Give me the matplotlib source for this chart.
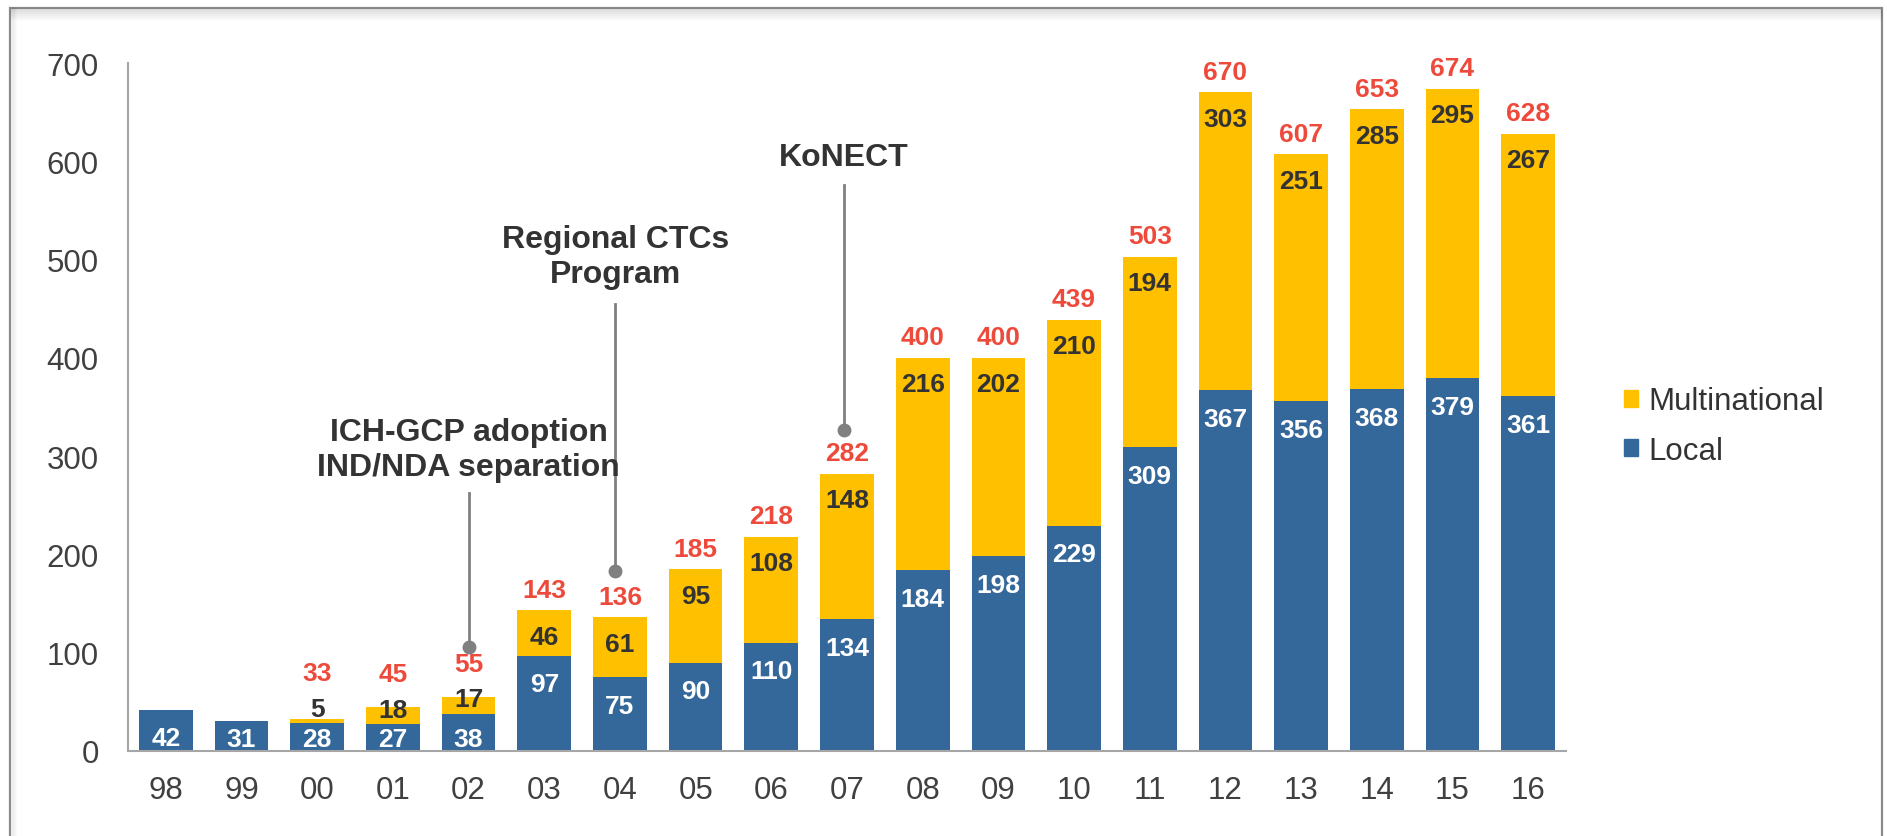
import numpy as np
import matplotlib
matplotlib.use('Agg')
import matplotlib.pyplot as plt
from matplotlib.patches import Rectangle, Patch
from matplotlib.lines import Line2D

plt.rcParams['font.family'] = ['Liberation Sans', 'DejaVu Sans']

# data
years = ['98', '99', '00', '01', '02', '03', '04', '05', '06', '07',
         '08', '09', '10', '11', '12', '13', '14', '15', '16']
local = [42, 31, 28, 27, 38, 97, 75, 90, 110, 134,
         184, 198, 229, 309, 367, 356, 368, 379, 361]
multinational = [0, 0, 5, 18, 17, 46, 61, 95, 108, 148,
                 216, 202, 210, 194, 303, 251, 285, 295, 267]
event_names = ['ICH-GCP adoption\nIND/NDA separation', 'Regional CTCs\nProgram', 'KoNECT']
event_years = ['02', '04', '07']

# layout of the callouts (dot, line top, text centre) in data units
event_dot = [106, 183, 327]
event_top = [262, 455, 576]
event_text = [307, 503, 604]
event_dx = [0.0, -0.06, -0.04]

blue = '#34679A'
yellow = '#FFC000'
red = '#EE4A3B'
dark = '#333333'

local = np.array(local)
multinational = np.array(multinational)
total = local + multinational
x = np.arange(len(years))

fig = plt.figure(figsize=(18.87, 8.37), dpi=100)
ax = fig.add_axes([128/1887, 85/837, 1438/1887, 688/837])

ax.bar(x, local, width=0.71, color=blue, label='Local', zorder=2)
ax.bar(x, multinational, width=0.71, bottom=local, color=yellow, label='Multinational', zorder=2)

for i in range(len(x)):
    yl = max(local[i] - 29, 12)
    ax.text(x[i], yl, str(local[i]), ha='center', va='center', color='white',
            fontsize=19, fontweight='bold', zorder=3)
    if multinational[i] > 0:
        ym = max(total[i] - 27, local[i] + 15)
        ax.text(x[i], ym, str(multinational[i]), ha='center', va='center', color=dark,
                fontsize=19, fontweight='bold', zorder=3)
        yt = max(total[i] + 21, ym + 36)
        ax.text(x[i], yt, str(total[i]), ha='center', va='center', color=red,
                fontsize=19, fontweight='bold', zorder=3, clip_on=False)

for k, name in enumerate(event_names):
    xi = years.index(event_years[k]) + event_dx[k]
    ax.plot([xi, xi], [event_dot[k], event_top[k]], color='#808080', lw=2, zorder=1, clip_on=False)
    ax.plot(xi, event_dot[k], 'o', color='#808080', ms=9, zorder=1, clip_on=False)
    ax.text(xi, event_text[k], name, ha='center', va='center', color=dark,
            fontsize=23, fontweight='bold', linespacing=1.2, clip_on=False)

ax.set_xlim(-0.5, len(x) - 0.5)
ax.set_ylim(0, 700)
ax.set_yticks(np.arange(0, 701, 100))
ax.set_xticks(x)
ax.set_xticklabels(years)
ax.tick_params(axis='both', length=0, labelsize=22.5, labelcolor='#404040')
ax.tick_params(axis='y', pad=21)
ax.tick_params(axis='x', pad=17)
for s in ['top', 'right']:
    ax.spines[s].set_visible(False)
for s in ['left', 'bottom']:
    ax.spines[s].set_color('#A6A6A6')
    ax.spines[s].set_linewidth(1.5)

handles = [Patch(color=yellow, label='Multinational'), Patch(color=blue, label='Local')]
fig.legend(handles=handles, loc='center left', bbox_to_anchor=(1608/1887, (837-427)/837),
           frameon=False, fontsize=22.5, handlelength=0.47, handleheight=0.47,
           handletextpad=0.32, labelspacing=0.62, borderpad=0, labelcolor='#333333')

# outer frame with a soft shadow
for i in range(1, 13):
    a = 0.10 * (1 - i / 13)
    fig.add_artist(Line2D([11/1887, 1881/1887], [(837-9-i)/837]*2, color='black', alpha=a, lw=1))
for i in range(1, 6):
    a = 0.07 * (1 - i / 6)
    fig.add_artist(Line2D([(11+i)/1887]*2, [0, (837-9)/837], color='black', alpha=a, lw=1))
fig.add_artist(Rectangle((10/1887, -0.05), 1872/1887, (837-9)/837 + 0.05,
                         fill=False, edgecolor='#8A8A8A', lw=1.6, transform=fig.transFigure))

fig.savefig('out.png', dpi=100)
